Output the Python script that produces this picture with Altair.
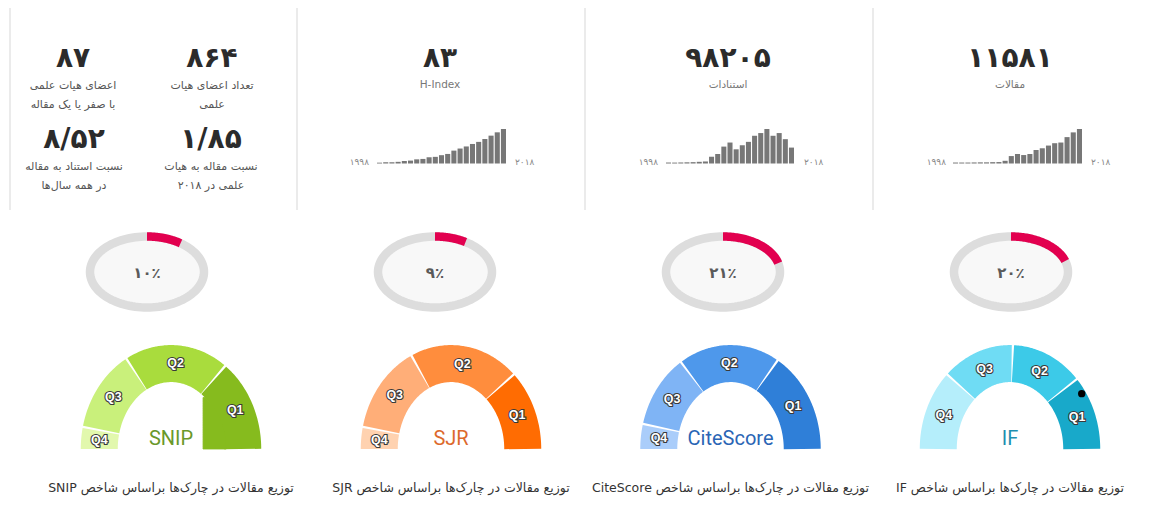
import altair as alt
import pandas as pd

# ---------------- data ----------------
years = list(range(1998, 2019))
articles = [50, 50, 50, 55, 60, 60, 70, 75, 141, 387, 493, 440, 493, 704, 792, 933, 1056, 1091, 1373, 1619, 1795]
citations = [310, 290, 330, 380, 430, 540, 650, 2170, 3040, 5420, 6720, 4550, 5850, 6940, 8890, 9760, 11060, 8890, 9760, 7800, 5100]
hindex = [2, 3, 3, 4, 6, 7, 10, 11, 15, 16, 20, 23, 31, 36, 41, 47, 52, 59, 67, 75, 83]

kpi_values = ["۸۳", "۹۸۲۰۵", "۱۱۵۸۱"]
kpi_labels = ["H-Index", "استنادات", "مقالات"]
year_labels = ["۱۹۹۸", "۲۰۱۸"]

stat_values = ["۸۷", "۸۶۴", "۸/۵۲", "۱/۸۵"]
stat_line1 = ["اعضای هیات علمی", "تعداد اعضای هیات", "نسبت استناد به مقاله", "نسبت مقاله به هیات"]
stat_line2 = ["با صفر یا یک مقاله", "علمی", "در همه سال\u200cها", "علمی در ۲۰۱۸"]

ring_pcts = [10, 9, 21, 20]
ring_texts = ["۱۰٪", "۹٪", "۲۱٪", "۲۰٪"]

indices = ["SNIP", "SJR", "CiteScore", "IF"]
quartiles = ["Q1", "Q2", "Q3", "Q4"]
shares_snip = [30, 36, 27, 7]
shares_sjr = [26, 38, 29, 7]
shares_citescore = [33, 35, 24, 8]
shares_if = [24, 25, 25, 26]
if_marker = 0.817
snip_q1_inner_edge = 0.36
caption_prefix = "توزیع مقالات در چارک\u200cها براساس شاخص"

# ---------------- layout / style ----------------
OX, OY = 8, 8
W, H = 1141, 511


def px(x):
    return x - OX


def py(y):
    return y - OY


def rtl(s):
    return "\u202b" + s + "\u202c"


FA = "DejaVu Sans"
layers = []

# vertical separators
sep = pd.DataFrame({"x": [px(10), px(297), px(585), px(873)]})
layers.append(
    alt.Chart(sep).mark_rule(color="#e4e4e4", strokeWidth=1.5).encode(
        x=alt.X("x:Q", scale=None), y=alt.value(py(8)), y2=alt.value(py(210))
    )
)

# stats grid (column 1)
stat_df = pd.DataFrame({
    "v": stat_values,
    "l1": [rtl(s) for s in stat_line1],
    "l2": [rtl(s) for s in stat_line2],
    "x": [px(73), px(212), px(74), px(211)],
    "y": [py(59), py(59), py(140), py(140)],
})
sbase = alt.Chart(stat_df)
layers.append(sbase.mark_text(font=FA, fontSize=28, fontWeight="bold", color="#2b2b2b", baseline="middle").encode(
    x=alt.X("x:Q", scale=None), y=alt.Y("y:Q", scale=None), text="v:N"))
layers.append(sbase.mark_text(font=FA, fontSize=11, color="#555555", baseline="middle", dy=27).encode(
    x=alt.X("x:Q", scale=None), y=alt.Y("y:Q", scale=None), text="l1:N"))
layers.append(sbase.mark_text(font=FA, fontSize=11, color="#555555", baseline="middle", dy=46).encode(
    x=alt.X("x:Q", scale=None), y=alt.Y("y:Q", scale=None), text="l2:N"))

# KPI headers (columns 2-4)
kpi_df = pd.DataFrame({
    "v": kpi_values,
    "l": [kpi_labels[0]] + [rtl(s) for s in kpi_labels[1:]],
    "x": [px(440), px(728), px(1010)],
    "y": [py(59)] * 3,
})
kbase = alt.Chart(kpi_df)
layers.append(kbase.mark_text(font=FA, fontSize=28, fontWeight="bold", color="#2b2b2b", baseline="middle").encode(
    x=alt.X("x:Q", scale=None), y=alt.Y("y:Q", scale=None), text="v:N"))
layers.append(kbase.mark_text(font=FA, fontSize=10.5, color="#777777", baseline="middle", dy=26).encode(
    x=alt.X("x:Q", scale=None), y=alt.Y("y:Q", scale=None), text="l:N"))

# sparklines
sparks = [(hindex, 377, 506), (citations, 666, 794), (articles, 953, 1082)]
for vals, x0, x1 in sparks:
    df = pd.DataFrame({"year": years, "v": vals})
    layers.append(
        alt.Chart(df).mark_bar(color="#777777").encode(
            x=alt.X("year:O", axis=None,
                    scale=alt.Scale(range=[px(x0), px(x1)], paddingInner=0.18, paddingOuter=0)),
            y=alt.Y("v:Q", axis=None,
                    scale=alt.Scale(domain=[0, max(vals)], range=[py(163.5), py(129)])),
        )
    )
yl_df = pd.DataFrame({
    "t": [year_labels[0]] * 3,
    "x": [px(369), px(658), px(946)],
})
yr_df = pd.DataFrame({
    "t": [year_labels[1]] * 3,
    "x": [px(515), px(804), px(1091)],
})
layers.append(alt.Chart(yl_df).mark_text(font=FA, fontSize=9, color="#888888", align="right", baseline="middle").encode(
    x=alt.X("x:Q", scale=None), y=alt.value(py(162)), text="t:N"))
layers.append(alt.Chart(yr_df).mark_text(font=FA, fontSize=9, color="#888888", align="left", baseline="middle").encode(
    x=alt.X("x:Q", scale=None), y=alt.value(py(162)), text="t:N"))

# rings
ring_cx = [147, 435, 723, 1011]
RCY, RX, RY = 272, 57, 35.5
for pct, txt, cx in zip(ring_pcts, ring_texts, ring_cx):
    xs = alt.Scale(domain=[-1, 1], range=[px(cx - RX), px(cx + RX)])
    ys = alt.Scale(domain=[-1, 1], range=[py(RCY + RY), py(RCY - RY)])
    rdf = pd.DataFrame({"pct": [pct], "t": [txt]})
    rb = alt.Chart(rdf)
    layers.append(
        rb.transform_calculate(i="sequence(0, 61)").transform_flatten(["i"])
        .transform_calculate(a="-PI/2 + PI*datum.i/60")
        .transform_calculate(fx="sin(datum.a)", fy="cos(datum.a)", fy2="-cos(datum.a)")
        .mark_area(color="#f8f8f8")
        .encode(x=alt.X("fx:Q", scale=xs, axis=None), y=alt.Y("fy:Q", scale=ys, axis=None), y2="fy2:Q")
    )
    layers.append(
        rb.transform_calculate(i="sequence(0, 121)").transform_flatten(["i"])
        .transform_calculate(a="2*PI*datum.i/120")
        .transform_calculate(gx="sin(datum.a)", gy="cos(datum.a)")
        .mark_line(color="#dddddd", strokeWidth=8.5, strokeCap="butt")
        .encode(x=alt.X("gx:Q", scale=xs, axis=None), y=alt.Y("gy:Q", scale=ys, axis=None), order="i:Q")
    )
    layers.append(
        rb.transform_calculate(i="sequence(0, 61)").transform_flatten(["i"])
        .transform_calculate(a="2*PI*datum.pct/100*datum.i/60")
        .transform_calculate(gx="sin(datum.a)", gy="cos(datum.a)")
        .mark_line(color="#e2004f", strokeWidth=8.5, strokeCap="butt")
        .encode(x=alt.X("gx:Q", scale=xs, axis=None), y=alt.Y("gy:Q", scale=ys, axis=None), order="i:Q")
    )
    layers.append(
        rb.mark_text(font=FA, fontSize=15, fontWeight="bold", color="#5a5a5a", baseline="middle").encode(
            x=alt.value(px(cx)), y=alt.value(py(RCY + 1)), text="t:N")
    )

# gauges
gauge_cfg = [
    ("SNIP", shares_snip, ["#86bb1e", "#a9dc3d", "#c9f07b", "#e2f8ad"], 171, "#6a982a"),
    ("SJR", shares_sjr, ["#ff6c02", "#ff8d3d", "#ffae78", "#ffd2b0"], 451, "#dd6a2c"),
    ("CiteScore", shares_citescore, ["#2f7fd8", "#4e98eb", "#7fb4f5", "#aacdfa"], 730.5, "#2a65b5"),
    ("IF", shares_if, ["#18a9ca", "#3ccae8", "#6fdcf4", "#b5eefb"], 1010, "#1f8fb0"),
]
GCY, GRX, GRY = 449, 89, 106
RMID = 0.806
GAP = 0.010
for name, sh, cols, cx, lc in gauge_cfg:
    xs = alt.Scale(domain=[-1, 1], range=[px(cx - GRX), px(cx + GRX)])
    ys = alt.Scale(domain=[0, 1], range=[py(GCY), py(GCY - GRY)])
    cs = alt.Scale(domain=quartiles, range=cols)
    gdf = pd.DataFrame({"q": quartiles[::-1], "share": sh[::-1]})
    tot = gdf["share"].sum()
    gdf["f0"] = (gdf["share"].cumsum() - gdf["share"]) / tot
    gdf["f1"] = gdf["share"].cumsum() / tot
    gb = alt.Chart(gdf)
    layers.append(
        gb.transform_calculate(
            a0=f"-PI/2 + datum.f0*PI + (datum.f0 > 0.001 ? {GAP} : 0)",
            a1=f"-PI/2 + datum.f1*PI - (datum.f1 < 0.999 ? {GAP} : 0)",
            i="sequence(0, 41)",
        ).transform_flatten(["i"])
        .transform_calculate(a="datum.a0 + (datum.a1 - datum.a0)*datum.i/40")
        .transform_calculate(gx=f"{RMID}*sin(datum.a)", gy=f"{RMID}*cos(datum.a)")
        .mark_line(strokeWidth=37, strokeCap="butt", strokeJoin="round")
        .encode(
            x=alt.X("gx:Q", scale=xs, axis=None),
            y=alt.Y("gy:Q", scale=ys, axis=None),
            color=alt.Color("q:N", scale=cs, legend=None),
            detail="q:N",
            order="i:Q",
        )
    )
    if name == "SNIP":
        edf = pd.DataFrame({"e": [snip_q1_inner_edge]})
        layers.append(
            alt.Chart(edf).transform_calculate(i="sequence(0, 31)").transform_flatten(["i"])
            .transform_calculate(yy="sqrt(0.605*0.605 - datum.e*datum.e)*datum.i/30")
            .transform_calculate(xx="sqrt(0.62*0.62 - datum.yy*datum.yy)")
            .mark_area(color=cols[0], orient="horizontal", stroke=cols[0], strokeWidth=0.8)
            .encode(y=alt.Y("yy:Q", scale=ys, axis=None), x=alt.X("e:Q", scale=xs, axis=None), x2="xx:Q")
        )
    lab = gb.transform_calculate(am="-PI/2 + (datum.f0 + datum.f1)/2*PI").transform_calculate(
        lx="0.81*sin(datum.am)", ly="0.81*cos(datum.am)")
    layers.append(
        lab.mark_text(font="Liberation Sans", fontSize=12.5, fontWeight="bold", color="#3a3a3a",
                      stroke="#3a3a3a", strokeWidth=2.2, baseline="middle")
        .encode(x=alt.X("lx:Q", scale=xs, axis=None), y=alt.Y("ly:Q", scale=ys, axis=None), text="q:N")
    )
    layers.append(
        lab.mark_text(font="Liberation Sans", fontSize=12.5, fontWeight="bold", color="#ffffff", baseline="middle")
        .encode(x=alt.X("lx:Q", scale=xs, axis=None), y=alt.Y("ly:Q", scale=ys, axis=None), text="q:N")
    )
    tdf = pd.DataFrame({"name": [name], "cap": [rtl(caption_prefix + " " + name)]})
    layers.append(
        alt.Chart(tdf).mark_text(font="Roboto", fontSize=20, color=lc, baseline="middle")
        .encode(x=alt.value(px(cx)), y=alt.value(py(439)), text="name:N")
    )
    layers.append(
        alt.Chart(tdf).mark_text(font=FA, fontSize=12.5, color="#333333", baseline="middle")
        .encode(x=alt.value(px(cx)), y=alt.value(py(488)), text="cap:N")
    )
    if name == "IF":
        mdf = pd.DataFrame({"m": [if_marker]})
        layers.append(
            alt.Chart(mdf).transform_calculate(a="-PI/2 + datum.m*PI")
            .transform_calculate(mx="0.96*sin(datum.a)", my="0.96*cos(datum.a)")
            .mark_point(filled=True, color="#000000", size=55, opacity=1)
            .encode(x=alt.X("mx:Q", scale=xs, axis=None), y=alt.Y("my:Q", scale=ys, axis=None))
        )

chart = (
    alt.layer(*layers)
    .resolve_scale(x="independent", y="independent", color="independent")
    .properties(width=W, height=H, padding=0, autosize=alt.AutoSizeParams(type="none"), background="#ffffff")
    .configure_view(stroke=None)
)

chart.save("out.html", embed_options={"renderer": "svg", "actions": False})
